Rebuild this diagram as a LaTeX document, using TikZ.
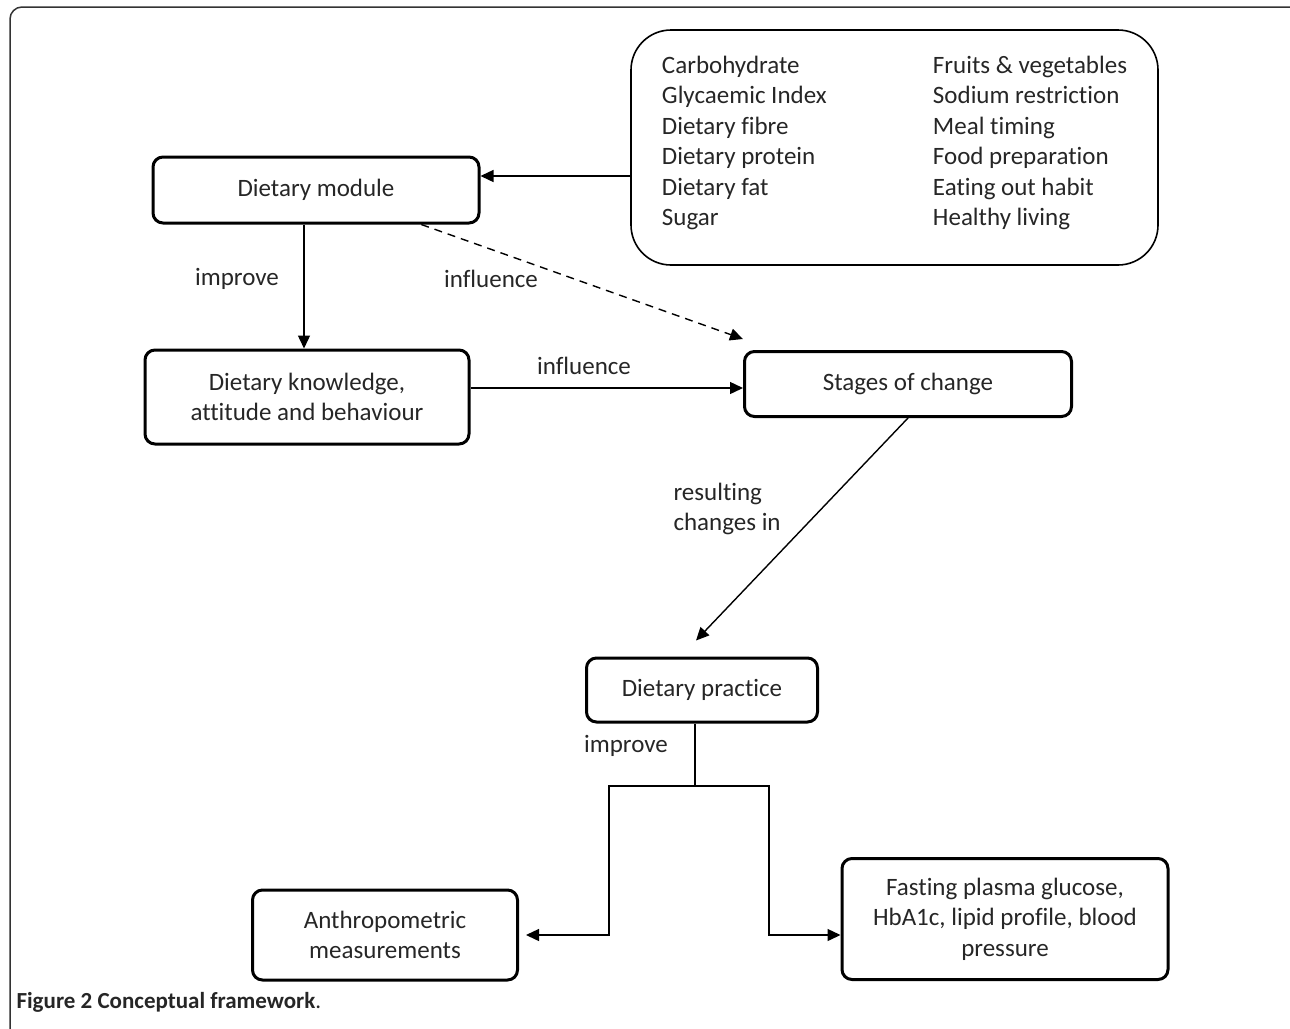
\documentclass[tikz,border=0pt]{standalone}
\usepackage{fontspec}
\setmainfont{Carlito}[Ligatures=CommonOff]
\usetikzlibrary{arrows.meta,calc,positioning}

\begin{document}
\begin{tikzpicture}[x=1pt,y=-1pt,
    box/.style={draw, line width=3pt, rounded corners=10pt, align=center, text=black!85, font=\fontsize{25}{30.5}\selectfont},
    arr/.style={line width=1.4pt, -{Triangle[length=13pt,width=12pt]}},
    lbl/.style={text=black!85, font=\fontsize{25}{30.5}\selectfont, align=left}]
        \useasboundingbox (0,0) rectangle (1290,1028);
        \draw[line width=1.5pt, black!80, rounded corners=12pt] (10,7) rectangle (1302,1042);

        \node[draw, line width=1.6pt, rounded corners=40pt, minimum width=527pt, minimum height=235pt, text=black!85, font=\fontsize{25}{30.5}\selectfont] (topics) at (894.5,147.5) {%
            \begin{tabular}{@{}p{271pt}@{}l@{}}
            Carbohydrate & Fruits \& vegetables\\
            Glycaemic Index & Sodium restriction\\
            Dietary fibre & Meal timing\\
            Dietary protein & Food preparation\\
            Dietary fat & Eating out habit\\
            Sugar & Healthy living\\[8pt]
            \end{tabular}};
        \node[box, minimum width=326pt, minimum height=66pt] (module) at (316,190) {Dietary module};
        \node[box, minimum width=324pt, minimum height=94pt] (kab) at (307,397) {Dietary knowledge,\\attitude and behaviour};
        \node[box, minimum width=327pt, minimum height=65pt] (stages) at (908,384) {Stages of change};
        \node[box, minimum width=231pt, minimum height=64pt] (practice) at (702,690) {Dietary practice};
        \node[box, minimum width=265pt, minimum height=90pt] (anthro) at (385,935) {Anthropometric\\measurements};
        \node[box, minimum width=326pt, minimum height=121pt] (fasting) at (1005,919) {Fasting plasma glucose,\\HbA1c, lipid profile, blood\\pressure};

        % labels on the links
        \node[lbl] (improveA) at (237,279) {improve};
        \node[lbl] (influenceA) at (491,279) {influence};
        \node[lbl] (influenceB) at (584,366) {influence};
        \node[lbl, anchor=west] (resulting) at (670,509) {resulting\\changes in};
        \node[lbl] (improveB) at (626,746) {improve};

        \node[anchor=base west, text=black!85, font=\fontsize{23}{26}\selectfont\bfseries] (caption) at (13,1008) {Figure 2 Conceptual framework\textmd{.}};

        % links
        \draw[arr] (topics.west |- 0,176) -- (module.east |- 0,176);
        \draw[arr] (module.south -| 304,0) -- (kab.north -| 304,0);
        \draw[arr, dash pattern=on 8pt off 6pt] ($(module.south west)!0.82!(module.south east)$) -- ($(stages.north west)+(0,-11)$);
        \draw[arr] (kab.east |- 0,388) -- (stages.west |- 0,388);
        \draw[arr] (stages.south) -- ($(practice.north)+(-6,-16)$);

        \coordinate (split) at (695,786);
        \coordinate (lbranch) at (609,786);
        \coordinate (rbranch) at (769,786);
        \draw[line width=1.4pt] (practice.south -| split) -- (split);
        \draw[arr] (split) -- (lbranch) |- ([xshift=7pt]anthro.east);
        \draw[arr] (split) -- (rbranch) |- (fasting.west |- anthro.east);
    \end{tikzpicture}
\end{document}
